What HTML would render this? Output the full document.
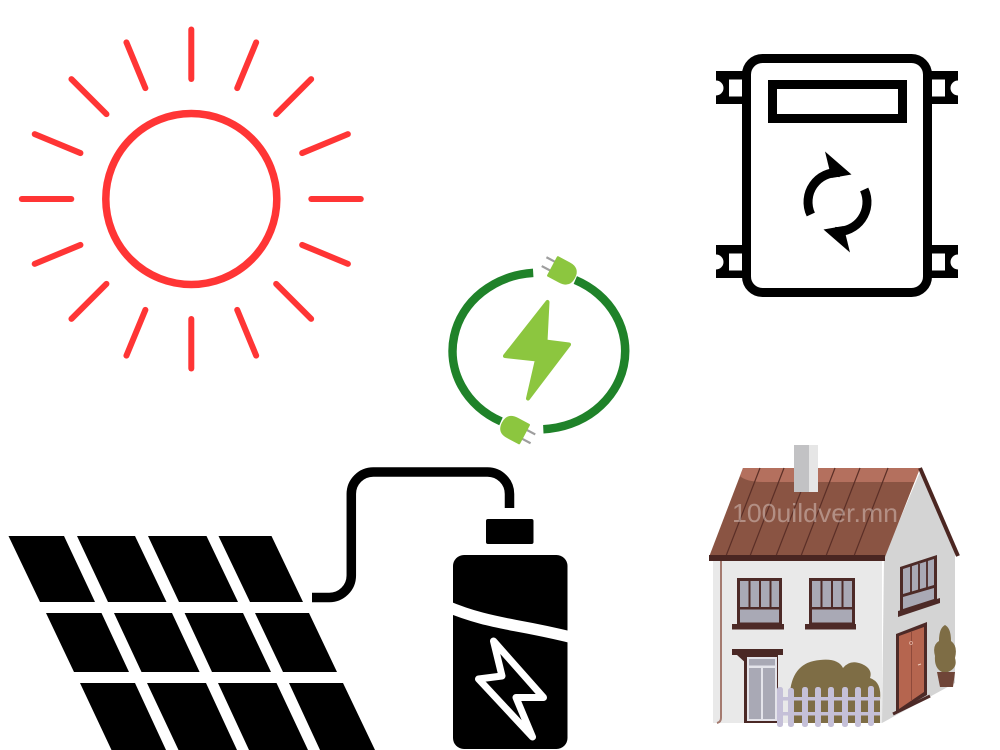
<!DOCTYPE html>
<html>
<head>
<meta charset="utf-8">
<style>
html,body{margin:0;padding:0;background:#fff;}
svg{display:block;}
</style>
</head>
<body>
<svg width="1000" height="750" viewBox="0 0 1000 750" xmlns="http://www.w3.org/2000/svg">
<rect width="1000" height="750" fill="#fff"/>

<!-- SUN -->
<g stroke="#ff3535" fill="none" stroke-linecap="round">
  <circle cx="191.3" cy="199" r="85.5" stroke-width="7.5"/>
  <g stroke-width="6">
    <line x1="191.3" y1="79" x2="191.3" y2="29.5" transform="rotate(0 191.3 199)"/>
    <line x1="191.3" y1="79" x2="191.3" y2="29.5" transform="rotate(22.5 191.3 199)"/>
    <line x1="191.3" y1="79" x2="191.3" y2="29.5" transform="rotate(45 191.3 199)"/>
    <line x1="191.3" y1="79" x2="191.3" y2="29.5" transform="rotate(67.5 191.3 199)"/>
    <line x1="191.3" y1="79" x2="191.3" y2="29.5" transform="rotate(90 191.3 199)"/>
    <line x1="191.3" y1="79" x2="191.3" y2="29.5" transform="rotate(112.5 191.3 199)"/>
    <line x1="191.3" y1="79" x2="191.3" y2="29.5" transform="rotate(135 191.3 199)"/>
    <line x1="191.3" y1="79" x2="191.3" y2="29.5" transform="rotate(157.5 191.3 199)"/>
    <line x1="191.3" y1="79" x2="191.3" y2="29.5" transform="rotate(180 191.3 199)"/>
    <line x1="191.3" y1="79" x2="191.3" y2="29.5" transform="rotate(202.5 191.3 199)"/>
    <line x1="191.3" y1="79" x2="191.3" y2="29.5" transform="rotate(225 191.3 199)"/>
    <line x1="191.3" y1="79" x2="191.3" y2="29.5" transform="rotate(247.5 191.3 199)"/>
    <line x1="191.3" y1="79" x2="191.3" y2="29.5" transform="rotate(270 191.3 199)"/>
    <line x1="191.3" y1="79" x2="191.3" y2="29.5" transform="rotate(292.5 191.3 199)"/>
    <line x1="191.3" y1="79" x2="191.3" y2="29.5" transform="rotate(315 191.3 199)"/>
    <line x1="191.3" y1="79" x2="191.3" y2="29.5" transform="rotate(337.5 191.3 199)"/>
  </g>
</g>

<!-- METER BOX -->
<g fill="#000">
  <!-- mounts -->
  <rect x="716" y="71" width="30" height="33"/>
  <rect x="716" y="245" width="30" height="33"/>
  <rect x="928" y="71" width="30" height="33"/>
  <rect x="928" y="245" width="30" height="33"/>
</g>
<g fill="#fff">
  <rect x="729" y="79.5" width="13" height="17"/>
  <rect x="729" y="253.5" width="13" height="17"/>
  <rect x="932" y="79.5" width="13" height="17"/>
  <rect x="932" y="253.5" width="13" height="17"/>
  <circle cx="716" cy="88" r="7.5"/>
  <circle cx="716" cy="262" r="7.5"/>
  <circle cx="958" cy="88" r="7.5"/>
  <circle cx="958" cy="262" r="7.5"/>
</g>
<rect x="746.5" y="58.5" width="181" height="234" rx="16" fill="#fff" stroke="#000" stroke-width="9"/>
<rect x="772.5" y="84.5" width="130" height="34" fill="none" stroke="#000" stroke-width="9"/>
<g fill="none" stroke="#000" stroke-width="9">
  <path d="M810.8,214.5 A29.5,29.5 0 0 1 840.1,172.6"/>
  <path d="M864.2,189.5 A29.5,29.5 0 0 1 834.9,231.4"/>
</g>
<polygon points="825,151.5 851.5,174.5 831.5,178" fill="#000"/>
<polygon points="850,252.5 823.5,229.5 843.5,226" fill="#000"/>

<!-- CHARGING ICON -->
<g fill="none" stroke="#1f8229" stroke-width="8.5">
  <path d="M533.2,272.9 A86.3,78.3 0 0 0 501,421.4"/>
  <path d="M575.3,280 A86.3,78.3 0 0 1 543.3,429.2"/>
</g>
<!-- top plug -->
<g transform="translate(563.5,272) rotate(28)">
  <line x1="-12" y1="-5" x2="-22" y2="-5" stroke="#9e9e9e" stroke-width="2.2"/>
  <line x1="-12" y1="5" x2="-22" y2="5" stroke="#9e9e9e" stroke-width="2.2"/>
  <path d="M-12,-11.5 H1 Q13,-11.5 13,0 Q13,11.5 1,11.5 H-12 Q-13,11.5 -13,10 V-10 Q-13,-11.5 -12,-11.5 Z" fill="#8cc63f"/>
</g>
<!-- bottom plug -->
<g transform="translate(513.5,428.5) rotate(208)">
  <line x1="-12" y1="-5" x2="-22" y2="-5" stroke="#9e9e9e" stroke-width="2.2"/>
  <line x1="-12" y1="5" x2="-22" y2="5" stroke="#9e9e9e" stroke-width="2.2"/>
  <path d="M-12,-11.5 H1 Q13,-11.5 13,0 Q13,11.5 1,11.5 H-12 Q-13,11.5 -13,10 V-10 Q-13,-11.5 -12,-11.5 Z" fill="#8cc63f"/>
</g>
<polygon points="547.5,302 545.5,341.5 569,344.5 528,398.5 537,359.5 505,356" fill="#8cc63f" stroke="#8cc63f" stroke-width="4" stroke-linejoin="round"/>

<!-- SOLAR PANEL -->
<g fill="#000">
  <polygon points="8.5,536 64,536 95,602 40,602"/>
  <polygon points="77,536 135,536 166.5,602 108,602"/>
  <polygon points="148,536 206.5,536 238,602 179,602"/>
  <polygon points="218.5,536 271.5,536 303,602 250,602"/>
  <polygon points="46,613 101.5,613 129,672 74,672"/>
  <polygon points="114,613 172,613 199.6,672 141.5,672"/>
  <polygon points="184.6,613 243,613 271,672 212,672"/>
  <polygon points="255,613 309,613 337,672 283,672"/>
  <polygon points="80,683 135,683 166,750 111.5,750"/>
  <polygon points="147,683 206,683 237,750 178.5,750"/>
  <polygon points="218,683 276.5,683 308,750 249,750"/>
  <polygon points="289,683 343,683 375,750 320,750"/>
</g>

<!-- WIRE -->
<path d="M312,597.5 H329 A22,22 0 0 0 351.3,575.5 V494 A22,22 0 0 1 373.3,472 H487.5 A22,22 0 0 1 509.5,494 V508" fill="none" stroke="#000" stroke-width="9.5"/>

<!-- BATTERY -->
<rect x="486" y="519" width="47.5" height="25" rx="2" fill="#000"/>
<rect x="453" y="555" width="114.5" height="194" rx="11" fill="#000"/>
<path d="M446,606 C472,617 492,621 515,625.5 C537,629.5 552,632.5 574,638" fill="none" stroke="#fff" stroke-width="11.5"/>
<polygon points="493.5,641 502,676 478.5,679 532.5,737 516,697.5 543.5,697.5" fill="none" stroke="#fff" stroke-width="7" stroke-linejoin="round"/>

<!-- HOUSE -->
<polygon points="884,557 920,472 955,553 955,683 882,723" fill="#d4d4d4"/>
<rect x="713" y="558" width="169" height="165" fill="#e9e9e9"/>
<polygon points="743,468 920,468 885,557 709,557" fill="#8a5443"/>
<path d="M743,468 H920 L914.5,482 H765 Q746,482 740,476 Z" fill="#b4705e"/>
<g stroke="#5b2f27" stroke-width="1.2">
  <line x1="760" y1="468" x2="726" y2="556"/>
  <line x1="784" y1="468" x2="750" y2="556"/>
  <line x1="810" y1="468" x2="776" y2="556"/>
  <line x1="835" y1="468" x2="801" y2="556"/>
  <line x1="860" y1="468" x2="826" y2="556"/>
  <line x1="888" y1="468" x2="854" y2="556"/>
</g>
<rect x="794" y="445" width="15" height="47" fill="#c2c2c4"/>
<rect x="809" y="445" width="9" height="47" fill="#e6e6e6"/>
<polygon points="709,555 885,555 885,561 709,561" fill="#4a2622"/>
<line x1="920" y1="468" x2="958" y2="556" stroke="#4b2621" stroke-width="4"/>
<path d="M721,561 V718 Q721,722 717,723" fill="none" stroke="#a47a6f" stroke-width="2"/>

<!-- front upper windows -->
<g>
  <rect x="737" y="578" width="45" height="46" fill="#4d2a27"/>
  <rect x="740" y="581" width="8.5" height="26" fill="#a9a9b5"/>
  <rect x="750.5" y="581" width="8.5" height="26" fill="#a9a9b5"/>
  <rect x="761" y="581" width="8.5" height="26" fill="#a9a9b5"/>
  <rect x="771.5" y="581" width="7.5" height="26" fill="#a9a9b5"/>
  <rect x="740" y="609.5" width="39" height="13" fill="#a9a9b5"/>
  <rect x="732" y="624" width="52" height="5.5" fill="#4d2a27"/>

  <rect x="809" y="578" width="46" height="46" fill="#4d2a27"/>
  <rect x="812" y="581" width="8.5" height="26" fill="#a9a9b5"/>
  <rect x="822.5" y="581" width="8.5" height="26" fill="#a9a9b5"/>
  <rect x="833" y="581" width="8.5" height="26" fill="#a9a9b5"/>
  <rect x="843.5" y="581" width="8.5" height="26" fill="#a9a9b5"/>
  <rect x="812" y="609.5" width="40" height="13" fill="#a9a9b5"/>
  <rect x="805" y="624" width="51" height="5.5" fill="#4d2a27"/>
</g>

<!-- side window -->
<polygon points="900,567 937,555 937,602 900,613" fill="#4d2a27"/>
<polygon points="903,569 934,559 934,585 903,594" fill="#a9a9b5"/>
<polygon points="903,597 934,588 934,599 903,609" fill="#a9a9b5"/>
<g stroke="#4d2a27" stroke-width="1.8">
  <line x1="911" y1="566" x2="911" y2="593"/>
  <line x1="919" y1="564" x2="919" y2="590"/>
  <line x1="927" y1="561" x2="927" y2="588"/>
</g>
<polygon points="898,611 940,598 940,603 898,617" fill="#4d2a27"/>

<!-- side door -->
<polygon points="896,634 927,622 927,695 896,713" fill="#4d2a27"/>
<polygon points="899,636 924,627 924,692 899,709" fill="#b5654f"/>
<line x1="911.5" y1="632" x2="911.5" y2="701" stroke="#8f4a3b" stroke-width="1"/>
<line x1="893" y1="714" x2="930" y2="696" stroke="#4d2a27" stroke-width="3"/>
<circle cx="911" cy="643" r="1.5" fill="none" stroke="#e0b0a0" stroke-width="0.8"/>
<line x1="918" y1="665" x2="921" y2="664" stroke="#f0d0c0" stroke-width="1"/>

<!-- plant -->
<path d="M945,625 Q951,628 951,641 Q958,646 955,658 Q958,668 948,672 L942,672 Q934,668 935,656 Q932,645 939,641 Q939,628 945,625 Z" fill="#7e6d45"/>
<polygon points="937,672 955,672 953,687 940,687" fill="#6f4538"/>

<!-- porch & door -->
<rect x="732" y="649" width="51" height="6" fill="#4a2825"/>
<polygon points="737,655 748,655 748,665" fill="#4a2825"/>
<polygon points="778,655 767,655 767,665" fill="#4a2825"/>
<rect x="744" y="655" width="34" height="68" fill="#4a2825"/>
<rect x="747" y="657" width="30" height="64" fill="#e4e4ea"/>
<rect x="749" y="659" width="26" height="6.5" fill="#a9a9b5"/>
<rect x="749" y="668" width="12" height="51" fill="#a9a9b5"/>
<rect x="763" y="668" width="12" height="51" fill="#a9a9b5"/>

<!-- bush -->
<path d="M790,723 L790,692 Q793,662 820,660 Q838,658 843,668 Q850,659 862,664 Q873,669 870,678 Q882,682 880,700 L880,723 Z" fill="#7e6d45"/>

<!-- fence -->
<g fill="#c5c0d8">
  <rect x="777" y="687" width="6" height="40" rx="2.5"/>
  <rect x="788" y="688" width="6" height="39" rx="2.5"/>
  <rect x="802" y="687" width="6" height="40" rx="2.5"/>
  <rect x="815" y="687" width="6" height="40" rx="2.5"/>
  <rect x="828" y="687" width="6" height="40" rx="2.5"/>
  <rect x="842" y="687" width="6" height="40" rx="2.5"/>
  <rect x="855" y="687" width="6" height="40" rx="2.5"/>
  <rect x="868" y="686" width="6" height="40" rx="2.5"/>
  <rect x="777" y="697" width="103" height="3.5"/>
  <rect x="777" y="712" width="103" height="3.5"/>
</g>

<!-- watermark -->
<text x="732" y="522" font-family="Liberation Sans, sans-serif" font-size="26" fill="#ffffff" fill-opacity="0.35" textLength="166" lengthAdjust="spacingAndGlyphs">100uildver.mn</text>

</svg>
</body>
</html>
